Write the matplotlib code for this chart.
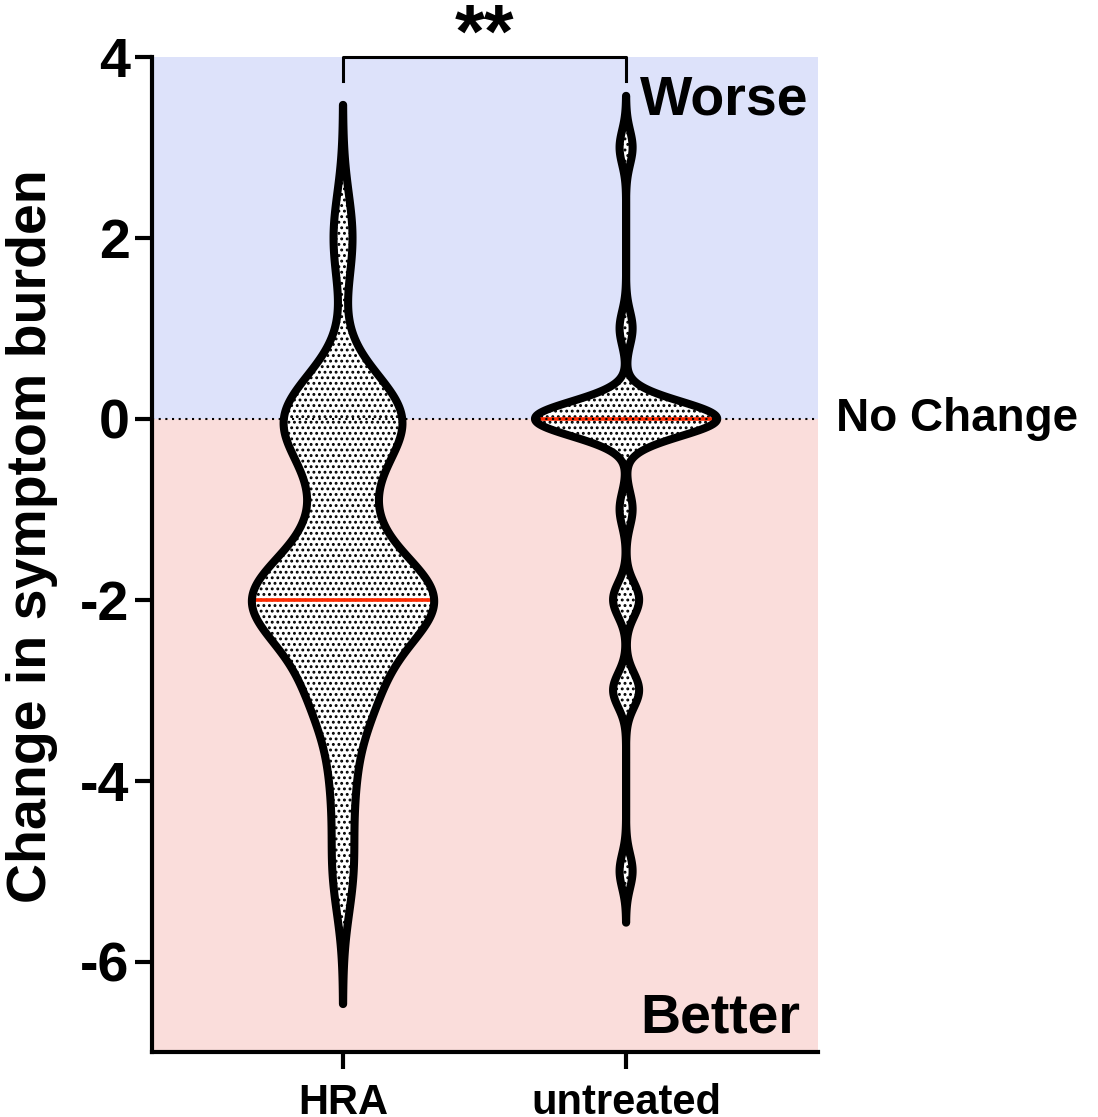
import numpy as np
import matplotlib
matplotlib.use("Agg")
import matplotlib.pyplot as plt

plt.rcParams['font.family'] = ['Liberation Sans', 'DejaVu Sans']
plt.rcParams['font.weight'] = 'bold'
plt.rcParams['hatch.linewidth'] = 1.3
plt.rcParams['hatch.color'] = 'black'

# ---- data (change scores and their counts) ----
groups = ["HRA", "untreated"]
scores = [-6, -5, -4, -3, -2, -1, 0, 1, 2, 3]
hra_counts = [0, 1, 1, 3, 9, 2, 6, 0, 1, 0]
untreated_counts = [0, 1, 0, 2, 2, 1, 14, 1, 0, 1]
bandwidths = [0.49, 0.19]
medians = [-2, 0]
yticks = [4, 2, 0, -2, -4, -6]
sig_label = "**"

fig = plt.figure(figsize=(10.98, 11.17), dpi=100)
ax = fig.add_axes([0.1384, 0.0582, 0.745 - 0.1384, 0.949 - 0.0582])
xlim = (-0.675, 1.678)
ylim = (-7, 4)
ax.set_xlim(*xlim)
ax.set_ylim(*ylim)

# background regions
ax.axhspan(0, ylim[1], color='#DDE2FA', zorder=0, lw=0)
ax.axhspan(ylim[0], 0, color='#FADDDB', zorder=0, lw=0)

half_max = 0.322
for i, (counts, h, med) in enumerate(zip([hra_counts, untreated_counts], bandwidths, medians)):
    vals_pts = np.repeat(scores, counts).astype(float)
    lo, hi = vals_pts.min() - 3 * h, vals_pts.max() + 3 * h
    coords = np.linspace(lo, hi, 800)
    dens = np.exp(-0.5 * ((coords[:, None] - vals_pts[None, :]) / h) ** 2).sum(axis=1)
    w = half_max * dens / dens.max()
    # fill with dot pattern
    ax.fill_betweenx(coords, i - w, i + w, facecolor='white', edgecolor='black',
                     hatch='...', linewidth=0, zorder=2)
    # median line
    wm = np.interp(med, coords, w)
    ax.plot([i - wm, i + wm], [med, med], color='#FF2A00', lw=2.6, zorder=3,
            solid_capstyle='butt')
    # outline
    ax.fill_betweenx(coords, i - w, i + w, facecolor='none', edgecolor='black',
                     linewidth=5.8, zorder=4, joinstyle='round', capstyle='round')

# no-change dotted line
ax.axhline(0, color='black', lw=1.5, ls=(0, (1, 2.2)), zorder=5)

# spines
for s in ['top', 'right']:
    ax.spines[s].set_visible(False)
for s in ['left', 'bottom']:
    ax.spines[s].set_linewidth(3)
    ax.spines[s].set_zorder(6)

ax.set_yticks(yticks)
ax.set_yticklabels([str(t) for t in yticks], fontsize=40, fontweight='bold')
ax.tick_params(axis='y', length=12, width=3, pad=4)
ax.set_xticks(range(len(groups)))
ax.set_xticklabels(groups, fontsize=30, fontweight='bold')
ax.tick_params(axis='x', length=12, width=3, pad=10)

fig.text(32 / 1098, 1 - 536 / 1117, "Change in symptom burden", rotation=90,
         fontsize=40, fontweight='bold', ha='center', va='center')

# annotations
ax.text(1.643, 3.52, "Worse", fontsize=40, fontweight='bold', ha='right', va='center', zorder=7)
ax.text(1.615, -6.63, "Better", fontsize=40, fontweight='bold', ha='right', va='center', zorder=7)
ax.text(1.742, 0, "No Change", fontsize=33, fontweight='bold', ha='left', va='center', clip_on=False)

# significance bracket
ax.plot([0, 0, 1, 1], [3.73, 4.0, 4.0, 3.73], color='black', lw=2.2, clip_on=False, zorder=7)
ax.text(0.5, 4.22, sig_label, fontsize=55, fontweight='bold', ha='center', va='center', clip_on=False)

fig.savefig("out.png", dpi=100)
